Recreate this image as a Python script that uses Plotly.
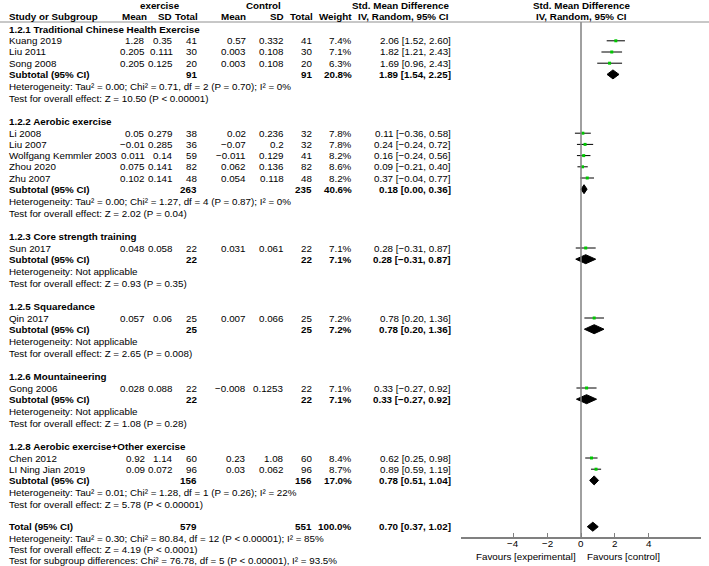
import plotly.graph_objects as go

W, H = 709, 566

# ---------------- data ----------------
group_names = [
    "1.2.1 Traditional Chinese Health Exercise",
    "1.2.2 Aerobic exercise",
    "1.2.3 Core strength training",
    "1.2.5 Squaredance",
    "1.2.6 Mountaineering",
    "1.2.8 Aerobic exercise+Other exercise",
]
study_group = [0, 0, 0, 1, 1, 1, 1, 1, 2, 3, 4, 5, 5]
study_names = ["Kuang 2019", "Liu 2011", "Song 2008", "Li 2008", "Liu 2007",
               "Wolfgang Kemmler 2003", "Zhou 2020", "Zhu 2007", "Sun 2017",
               "Qin 2017", "Gong 2006", "Chen 2012", "LI Ning Jian 2019"]
exp_mean = [1.28, 0.205, 0.205, 0.05, -0.01, 0.011, 0.075, 0.102, 0.048, 0.057, 0.028, 0.92, 0.09]
exp_sd = [0.35, 0.111, 0.125, 0.279, 0.285, 0.14, 0.141, 0.141, 0.058, 0.06, 0.088, 1.14, 0.072]
exp_n = [41, 30, 20, 38, 36, 59, 82, 48, 22, 25, 22, 60, 96]
ctl_mean = [0.57, 0.003, 0.003, 0.02, -0.07, -0.011, 0.062, 0.054, 0.031, 0.007, -0.008, 0.23, 0.03]
ctl_sd = [0.332, 0.108, 0.108, 0.236, 0.2, 0.129, 0.136, 0.118, 0.061, 0.066, 0.1253, 1.08, 0.062]
ctl_n = [41, 30, 20, 32, 32, 41, 82, 48, 22, 25, 22, 60, 96]
weight = [7.4, 7.1, 6.3, 7.8, 7.8, 8.2, 8.6, 8.2, 7.1, 7.2, 7.1, 8.4, 8.7]
smd = [2.06, 1.82, 1.69, 0.11, 0.24, 0.16, 0.09, 0.37, 0.28, 0.78, 0.33, 0.62, 0.89]
smd_lo = [1.52, 1.21, 0.96, -0.36, -0.24, -0.24, -0.21, -0.04, -0.31, 0.20, -0.27, 0.25, 0.59]
smd_hi = [2.60, 2.43, 2.43, 0.58, 0.72, 0.56, 0.40, 0.77, 0.87, 1.36, 0.92, 0.98, 1.19]

sub_exp_n = [91, 263, 22, 25, 22, 156]
sub_ctl_n = [91, 235, 22, 25, 22, 156]
sub_weight = [20.8, 40.6, 7.1, 7.2, 7.1, 17.0]
sub_smd = [1.89, 0.18, 0.28, 0.78, 0.33, 0.78]
sub_lo = [1.54, 0.00, -0.31, 0.20, -0.27, 0.51]
sub_hi = [2.25, 0.36, 0.87, 1.36, 0.92, 1.04]
sub_het = [
    "Heterogeneity: Tau² = 0.00; Chi² = 0.71, df = 2 (P = 0.70); I² = 0%",
    "Heterogeneity: Tau² = 0.00; Chi² = 1.27, df = 4 (P = 0.87); I² = 0%",
    "Heterogeneity: Not applicable",
    "Heterogeneity: Not applicable",
    "Heterogeneity: Not applicable",
    "Heterogeneity: Tau² = 0.01; Chi² = 1.28, df = 1 (P = 0.26); I² = 22%",
]
sub_test = [
    "Test for overall effect: Z = 10.50 (P < 0.00001)",
    "Test for overall effect: Z = 2.02 (P = 0.04)",
    "Test for overall effect: Z = 0.93 (P = 0.35)",
    "Test for overall effect: Z = 2.65 (P = 0.008)",
    "Test for overall effect: Z = 1.08 (P = 0.28)",
    "Test for overall effect: Z = 5.78 (P < 0.00001)",
]
total_exp_n = 579
total_ctl_n = 551
total_weight = 100.0
total_smd, total_lo, total_hi = 0.70, 0.37, 1.02
total_notes = [
    "Heterogeneity: Tau² = 0.30; Chi² = 80.84, df = 12 (P < 0.00001); I² = 85%",
    "Test for overall effect: Z = 4.19 (P < 0.0001)",
    "Test for subgroup differences: Chi² = 76.78, df = 5 (P < 0.00001), I² = 93.5%",
]
tick_vals = [-4, -2, 0, 2, 4]
tick_text = ["−4", "−2", "0", "2", "4"]
x_range = [-7.1, 7.1]

# ---------------- layout constants (pixels) ----------------
FONT = "Liberation Sans"
FS = 9.8
COL = dict(name=7, em=147, esd=175, en=199, cm=248, csd=286, cn=314, w=354, ci=453)
HDR = dict(em=149, esd=174, en=200, cm=248, csd=286, cn=315, w=354)
Y_HEADER_LINE = 22
Y_AXIS = 537
PLOT_X0, PLOT_X1 = 461, 701

def fmt(v):
    return f"{v:g}".replace("-", "−")

def fci(e, lo, hi):
    return f"{e:.2f} [{lo:.2f}, {hi:.2f}]".replace("-", "−")

annotations = []

def txt(x, y, s, anchor="left", bold=False, size=FS, xref="paper"):
    annotations.append(dict(
        x=(x / W) if xref == "paper" else x, y=1 - y / H, xref=xref, yref="paper",
        text=f"<b>{s}</b>" if bold else s, showarrow=False,
        xanchor=anchor, yanchor="middle",
        font=dict(family=FONT, size=size, color="#000")))

# header
txt(160, 6, "exercise", "center", True)
txt(263, 6, "Control", "center", True)
txt(451, 6, "Std. Mean Difference", "right", True)
txt(581, 6, "Std. Mean Difference", "center", True)
txt(COL["name"], 16.5, "Study or Subgroup", "left", True)
for key, lab in [("em", "Mean"), ("esd", "SD"), ("en", "Total"), ("cm", "Mean"),
                 ("csd", "SD"), ("cn", "Total"), ("w", "Weight")]:
    txt(HDR[key], 16.5, lab, "right", True)
txt(451, 16.5, "IV, Random, 95% CI", "right", True)
txt(581, 16.5, "IV, Random, 95% CI", "center", True)

# vertical row layout
y = 29
study_y = []
sub_y = []
for g, gname in enumerate(group_names):
    txt(COL["name"], y, gname, "left", True)
    idx = [i for i, sg in enumerate(study_group) if sg == g]
    y += 11.8
    for k, i in enumerate(idx):
        if k > 0:
            y += 11.2
        study_y.append(y)
        txt(COL["name"], y, study_names[i])
        txt(COL["em"], y, fmt(exp_mean[i]), "right")
        txt(COL["esd"], y, fmt(exp_sd[i]), "right")
        txt(COL["en"], y, str(exp_n[i]), "right")
        txt(COL["cm"], y, fmt(ctl_mean[i]), "right")
        txt(COL["csd"], y, fmt(ctl_sd[i]), "right")
        txt(COL["cn"], y, str(ctl_n[i]), "right")
        txt(COL["w"], y, f"{weight[i]:.1f}%", "right")
        txt(COL["ci"], y, fci(smd[i], smd_lo[i], smd_hi[i]), "right")
    y += 11.2
    sub_y.append(y)
    txt(COL["name"], y, "Subtotal (95% CI)", "left", True)
    txt(COL["en"], y, str(sub_exp_n[g]), "right", True)
    txt(COL["cn"], y, str(sub_ctl_n[g]), "right", True)
    txt(COL["w"], y, f"{sub_weight[g]:.1f}%", "right", True)
    txt(COL["ci"], y, fci(sub_smd[g], sub_lo[g], sub_hi[g]), "right", True)
    y += 12.5
    txt(COL["name"], y, sub_het[g])
    y += 12
    txt(COL["name"], y, sub_test[g])
    y += 22.5 if g < len(group_names) - 1 else 21.8

total_y = y
txt(COL["name"], y, "Total (95% CI)", "left", True)
txt(COL["en"], y, str(total_exp_n), "right", True)
txt(COL["cn"], y, str(total_ctl_n), "right", True)
txt(COL["w"], y, f"{total_weight:.1f}%", "right", True)
txt(COL["ci"], y, fci(total_smd, total_lo, total_hi), "right", True)
y += 11.8
for note in total_notes:
    txt(COL["name"], y, note)
    y += 11.0

# axis tick labels placed through the x scale
for tv, tt in zip(tick_vals, tick_text):
    txt(tv, 543.5, tt, "center", xref="x")

txt(578, 556, "Favours [experimental]", "right")
txt(585, 556, "Favours [control]", "left")

# ---------------- forest traces ----------------
ci_x, ci_y = [], []
for lo, hi, yy in zip(smd_lo, smd_hi, study_y):
    ci_x += [lo, hi, None]
    ci_y += [yy, yy, None]

dia_est = sub_smd + [total_smd]
dia_lo = sub_lo + [total_lo]
dia_hi = sub_hi + [total_hi]
dia_y = sub_y + [total_y]
HALF = 4.5
dx, dy = [], []
for e, lo, hi, yy in zip(dia_est, dia_lo, dia_hi, dia_y):
    dx += [lo, e, hi, e, lo, None]
    dy += [yy, yy - HALF, yy, yy + HALF, yy, None]

fig = go.Figure()
fig.add_trace(go.Scatter(x=ci_x, y=ci_y, mode="lines",
                         line=dict(color="#000", width=1), hoverinfo="skip"))
fig.add_trace(go.Scatter(x=smd, y=study_y, mode="markers",
                         marker=dict(symbol="square", size=3, color="#00c800",
                                     line=dict(width=0)), hoverinfo="skip"))
fig.add_trace(go.Scatter(x=dx, y=dy, mode="lines", fill="toself",
                         fillcolor="#000", line=dict(color="#000", width=1),
                         hoverinfo="skip"))

fig.add_shape(type="line", xref="x", yref="y", x0=0, x1=0,
              y0=Y_HEADER_LINE, y1=Y_AXIS, line=dict(color="#808080", width=1.5))
fig.add_shape(type="line", xref="paper", yref="paper", x0=0, x1=1,
              y0=1 - Y_HEADER_LINE / H, y1=1 - Y_HEADER_LINE / H,
              line=dict(color="#909090", width=1))

fig.update_layout(
    width=W, height=H, margin=dict(l=0, r=0, t=0, b=0),
    paper_bgcolor="white", plot_bgcolor="white", showlegend=False,
    annotations=annotations,
    xaxis=dict(domain=[PLOT_X0 / W, PLOT_X1 / W], range=x_range,
               showline=True, linecolor="#808080", linewidth=1.5,
               ticks="inside", ticklen=4, tickcolor="#808080",
               tickvals=tick_vals, showticklabels=False,
               showgrid=False, zeroline=False, fixedrange=True),
    yaxis=dict(domain=[1 - Y_AXIS / H, 1 - Y_HEADER_LINE / H],
               range=[Y_AXIS, Y_HEADER_LINE], visible=False,
               showgrid=False, zeroline=False, fixedrange=True),
)

fig.write_html("out.html", config={"displayModeBar": False},
               post_script="document.body.style.margin='0';document.body.style.overflow='hidden';")
